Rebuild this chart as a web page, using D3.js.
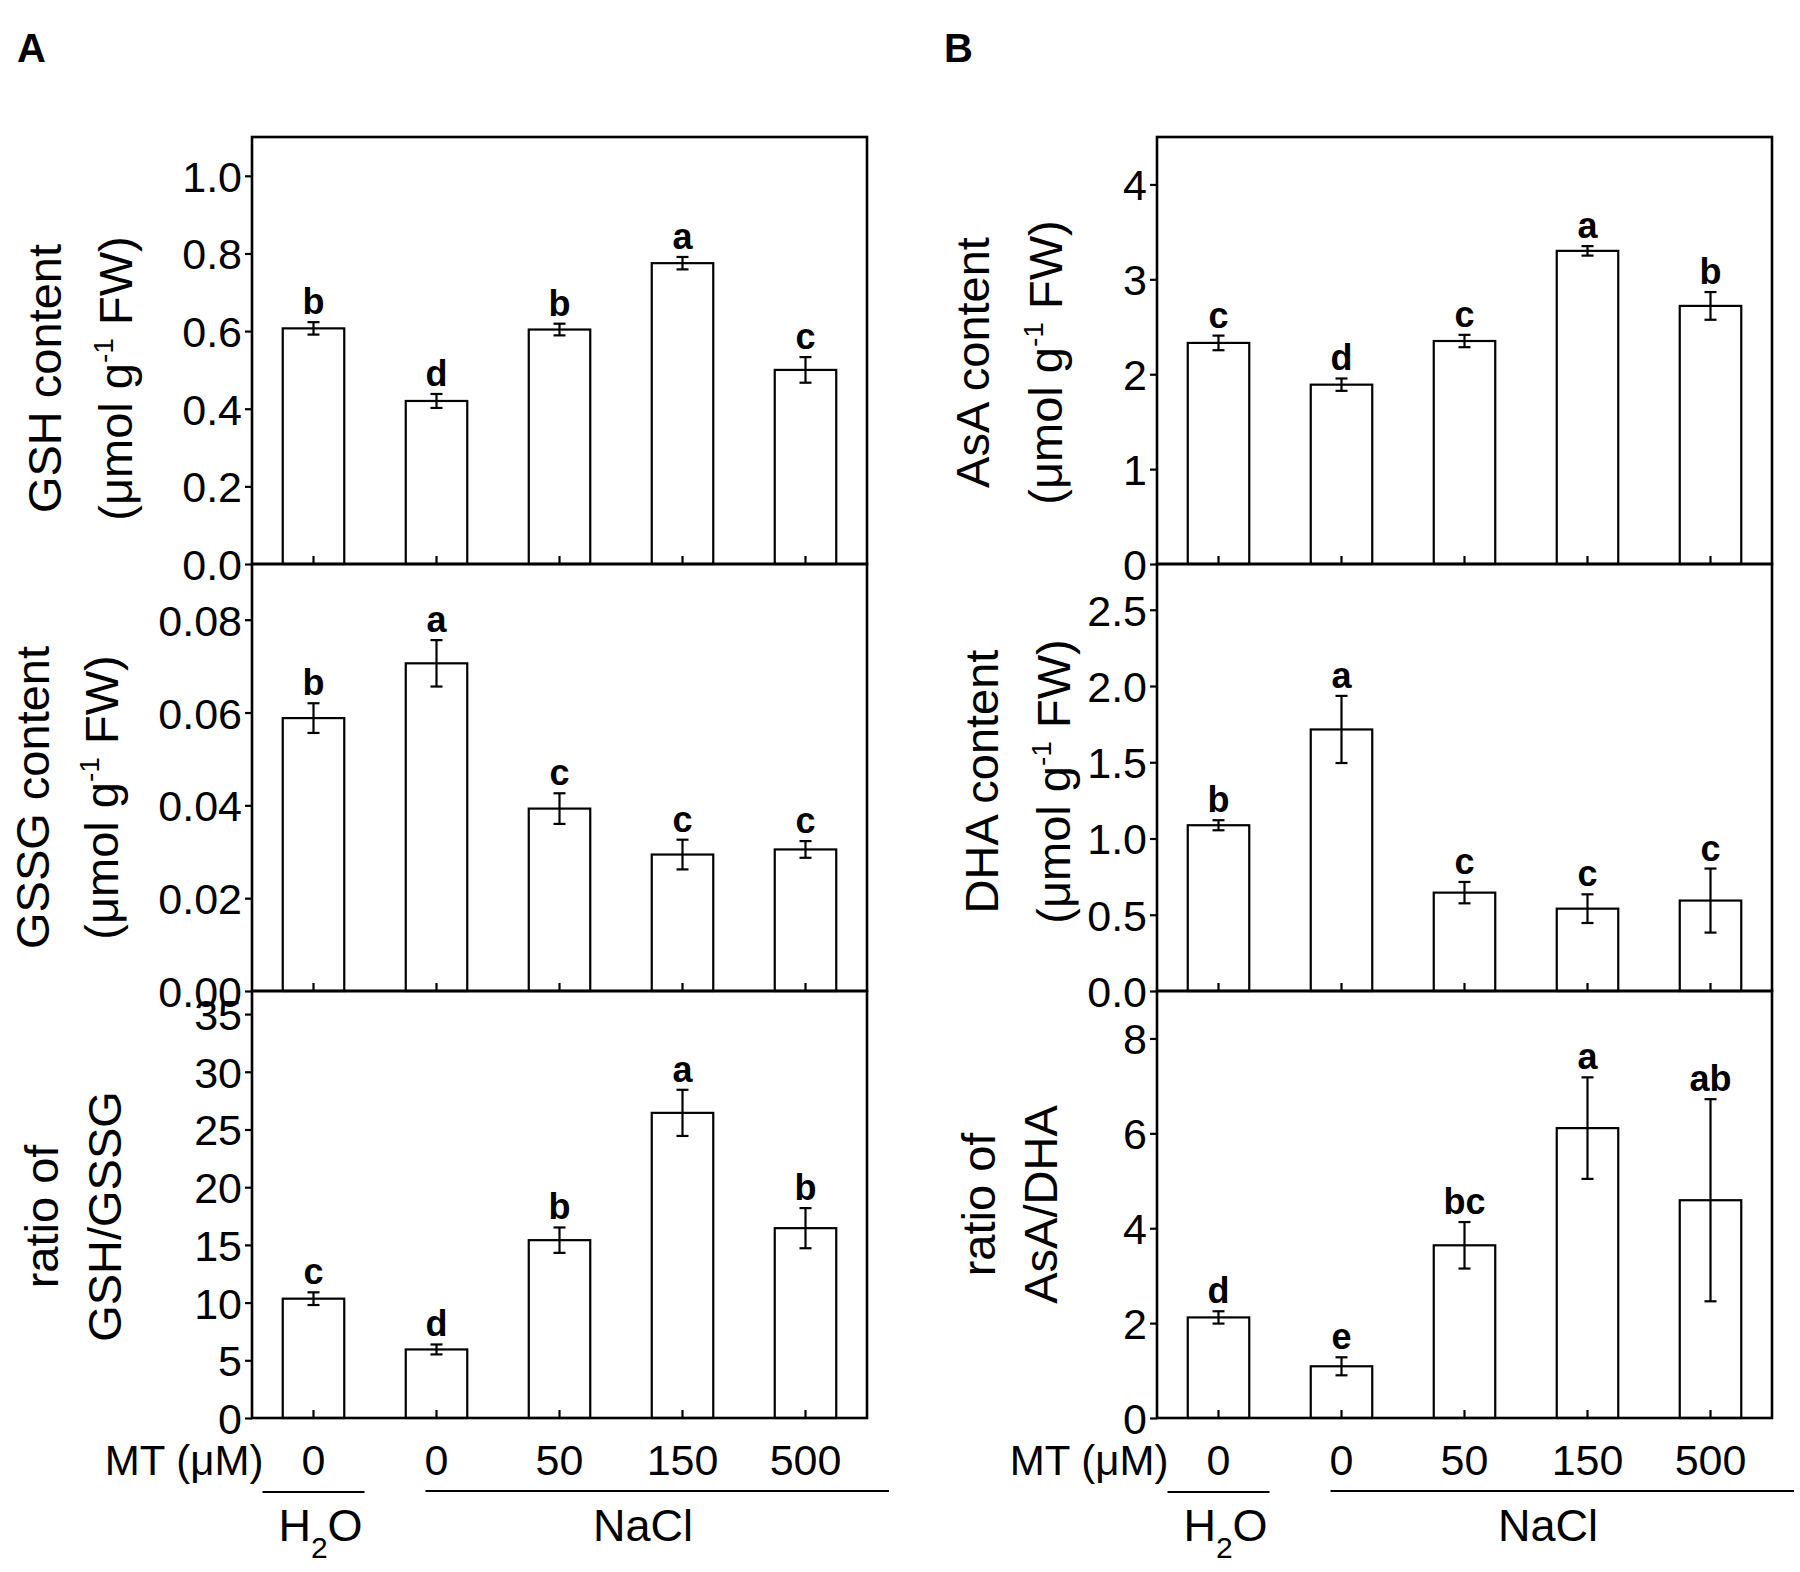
<!DOCTYPE html>
<html lang="en">
<head>
  <meta charset="UTF-8">
  <title>GSH / AsA bars</title>
  <script src="https://cdn.jsdelivr.net/npm/d3@7/dist/d3.min.js"></script>
  <style>
    body { margin: 0; background: #fff; }
    text { font-family: "Liberation Sans", Arial, sans-serif; fill: #000; }
    .frame { fill: none; stroke: #000; stroke-width: 2.6px; }
    .bar { fill: #fff; stroke: #000; stroke-width: 2.2px; }
    .err { stroke: #000; stroke-width: 2.2px; }
    .yaxis path { display: none; }
    .yaxis line, .xtick { stroke: #000; stroke-width: 2.2px; }
    .yaxis text { font-size: 43px; }
    .letter { font-size: 36px; font-weight: bold; }
    .ttl { font-size: 47px; }
  </style>
</head>
<body>
<div class="chart"></div>
<script>
  // treatments, shared by every panel
  const categories = ['H2O 0', 'NaCl 0', 'NaCl 50', 'NaCl 150', 'NaCl 500'];
  const mtLabels = ['0', '0', '50', '150', '500'];

  // panel A
  const gshMean = [0.607, 0.420, 0.604, 0.775, 0.500];
  const gshErr = [0.016, 0.018, 0.015, 0.016, 0.033];
  const gshLetters = ['b', 'd', 'b', 'a', 'c'];
  const gshTicks = [0, 0.2, 0.4, 0.6, 0.8, 1.0];

  const gssgMean = [0.0588, 0.0706, 0.0393, 0.0294, 0.0305];
  const gssgErr = [0.0032, 0.0050, 0.0033, 0.0032, 0.0018];
  const gssgLetters = ['b', 'a', 'c', 'c', 'c'];
  const gssgTicks = [0, 0.02, 0.04, 0.06, 0.08];

  const gRatioMean = [10.34, 5.94, 15.41, 26.44, 16.45];
  const gRatioErr = [0.55, 0.43, 1.1, 2.0, 1.74];
  const gRatioLetters = ['c', 'd', 'b', 'a', 'b'];
  const gRatioTicks = [0, 5, 10, 15, 20, 25, 30, 35];

  // panel B
  const asaMean = [2.33, 1.89, 2.35, 3.30, 2.72];
  const asaErr = [0.077, 0.065, 0.065, 0.05, 0.146];
  const asaLetters = ['c', 'd', 'c', 'a', 'b'];
  const asaTicks = [0, 1, 2, 3, 4];

  const dhaMean = [1.087, 1.715, 0.645, 0.540, 0.593];
  const dhaErr = [0.033, 0.22, 0.07, 0.094, 0.21];
  const dhaLetters = ['b', 'a', 'c', 'c', 'c'];
  const dhaTicks = [0, 0.5, 1.0, 1.5, 2.0, 2.5];

  const aRatioMean = [2.12, 1.09, 3.64, 6.11, 4.59];
  const aRatioErr = [0.13, 0.19, 0.49, 1.07, 2.13];
  const aRatioLetters = ['d', 'e', 'bc', 'a', 'ab'];
  const aRatioTicks = [0, 2, 4, 6, 8];

  const supOne = '-1';
  const unitTitle = ['(\u03bcmol g', supOne, ' FW)'];

  // layout
  const colX = [252, 1157];
  const rowY = [137, 564, 991];
  const pw = 615, ph = 427;

  const panels = [
    {col: 0, row: 0, mean: gshMean, err: gshErr, letters: gshLetters, max: 1.1, ticks: gshTicks, fmt: '.1f',
     lines: [['GSH content'], unitTitle], lx: [61, 132], ldy: 28},
    {col: 0, row: 1, mean: gssgMean, err: gssgErr, letters: gssgLetters, max: 0.092, ticks: gssgTicks, fmt: '.2f',
     lines: [['GSSG content'], unitTitle], lx: [49, 118], ldy: 20},
    {col: 0, row: 2, mean: gRatioMean, err: gRatioErr, letters: gRatioLetters, max: 37, ticks: gRatioTicks, fmt: 'd',
     lines: [['ratio of'], ['GSH/GSSG']], lx: [58, 121], ldy: 12},
    {col: 1, row: 0, mean: asaMean, err: asaErr, letters: asaLetters, max: 4.5, ticks: asaTicks, fmt: 'd',
     lines: [['AsA content'], unitTitle], lx: [989, 1062], ldy: 12},
    {col: 1, row: 1, mean: dhaMean, err: dhaErr, letters: dhaLetters, max: 2.8, ticks: dhaTicks, fmt: '.1f',
     lines: [['DHA content'], unitTitle], lx: [998, 1070], ldy: 4},
    {col: 1, row: 2, mean: aRatioMean, err: aRatioErr, letters: aRatioLetters, max: 9, ticks: aRatioTicks, fmt: 'd',
     lines: [['ratio of'], ['AsA/DHA']], lx: [995, 1057], ldy: 0}
  ];

  const svg = d3.select('.chart').append('svg')
    .attr('width', 1800).attr('height', 1572);

  const x = d3.scaleBand().domain(categories).range([0, pw]).paddingInner(0.5).paddingOuter(0.25);

  panels.forEach(p => {
    const ox = colX[p.col], oy = rowY[p.row];
    const y = d3.scaleLinear().domain([0, p.max]).range([ph, 0]);
    const g = svg.append('g').attr('transform', `translate(${ox} ${oy})`);
    const rows = categories.map((c, i) => ({c, m: p.mean[i], e: p.err[i], l: p.letters[i]}));

    g.selectAll('.bar').data(rows).enter().append('rect').attr('class', 'bar')
      .attr('x', d => x(d.c)).attr('width', x.bandwidth())
      .attr('y', d => y(d.m)).attr('height', d => ph - y(d.m));

    g.selectAll('.xtick').data(rows).enter().append('line').attr('class', 'xtick')
      .attr('x1', d => x(d.c) + x.bandwidth() / 2).attr('x2', d => x(d.c) + x.bandwidth() / 2)
      .attr('y1', ph).attr('y2', ph - 8);

    const eb = g.selectAll('.eb').data(rows).enter().append('g').attr('class', 'eb')
      .attr('transform', d => `translate(${x(d.c) + x.bandwidth() / 2} 0)`);
    eb.append('line').attr('class', 'err').attr('y1', d => y(d.m - d.e)).attr('y2', d => y(d.m + d.e));
    eb.append('line').attr('class', 'err').attr('x1', -6).attr('x2', 6)
      .attr('y1', d => y(d.m + d.e)).attr('y2', d => y(d.m + d.e));
    eb.append('line').attr('class', 'err').attr('x1', -6).attr('x2', 6)
      .attr('y1', d => y(d.m - d.e)).attr('y2', d => y(d.m - d.e));
    eb.append('text').attr('class', 'letter').attr('text-anchor', 'middle')
      .attr('y', d => y(d.m + d.e) - 8).text(d => d.l);

    g.append('g').attr('class', 'yaxis')
      .call(d3.axisLeft(y).tickValues(p.ticks).tickSize(7).tickPadding(3).tickFormat(d3.format(p.fmt)))
      .selectAll('text').attr('dy', '0.36em');

    g.append('rect').attr('class', 'frame').attr('width', pw).attr('height', ph);

    // rotated two-line title
    const cy = oy + ph / 2 + p.ldy;
    p.lines.forEach((parts, k) => {
      const t = svg.append('text').attr('class', 'ttl').attr('text-anchor', 'middle')
        .attr('transform', `translate(${p.lx[k]} ${cy}) rotate(-90)`);
      parts.forEach((s, j) => {
        if (s === supOne) {
          t.append('tspan').attr('dy', -19).attr('font-size', 28).text(s);
        } else {
          t.append('tspan').attr('dy', j > 0 ? 19 : 0).text(s);
        }
      });
    });
  });

  // treatment labels under each column
  const groupBase = 1475;
  colX.forEach((ox, ci) => {
    const g = svg.append('g').attr('transform', `translate(${ox} 0)`);
    const cx = d => x(d) + x.bandwidth() / 2;
    g.selectAll('.mt').data(categories).enter().append('text')
      .attr('x', cx).attr('y', groupBase).attr('text-anchor', 'middle')
      .style('font-size', '43px').text((d, i) => mtLabels[i]);
    g.append('text').attr('x', cx(categories[0]) - 50).attr('y', groupBase)
      .attr('text-anchor', 'end').style('font-size', '42px').text('MT (\u03bcM)');

    g.append('line').attr('x1', cx(categories[0]) - 51).attr('x2', cx(categories[0]) + 51)
      .attr('y1', 1492).attr('y2', 1492).attr('stroke', '#000').attr('stroke-width', 2.2);
    g.append('line').attr('x1', cx(categories[1]) - 11).attr('x2', pw + 22)
      .attr('y1', 1491).attr('y2', 1491).attr('stroke', '#000').attr('stroke-width', 2.2);

    const h = g.append('text').attr('x', cx(categories[0]) + 7).attr('y', 1541)
      .attr('text-anchor', 'middle').style('font-size', '45px');
    h.append('tspan').text('H');
    h.append('tspan').attr('dy', 17).attr('font-size', 30).text('2');
    h.append('tspan').attr('dy', -17).text('O');

    g.append('text').attr('x', (cx(categories[1]) + cx(categories[4])) / 2 + 22).attr('y', 1541)
      .attr('text-anchor', 'middle').style('font-size', '45px').text('NaCl');

    svg.append('text').attr('x', ci === 0 ? 17 : 944).attr('y', 62)
      .style('font-size', '40px').style('font-weight', 'bold').text(ci === 0 ? 'A' : 'B');
  });
</script>
</body>
</html>
